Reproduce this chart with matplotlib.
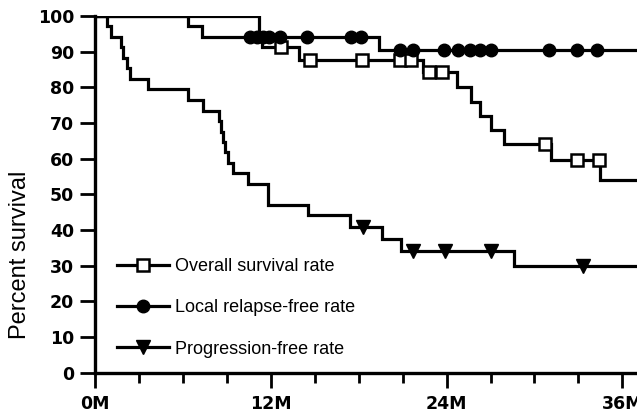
import numpy as np
import matplotlib
matplotlib.use("Agg")
import matplotlib.pyplot as plt
from matplotlib.lines import Line2D

# ---- data (months, percent) ----
t_end = 37.0

os_t = [0, 11.2, 11.4, 13.9, 22.4, 24.7, 25.7, 26.3, 27.0, 27.9, 31.1, 34.5]
os_s = [100, 94.1, 91.2, 87.7, 84.2, 80.0, 76.0, 72.0, 68.0, 64.0, 59.6, 53.9]
os_cens = [12.7, 14.7, 18.2, 20.8, 21.6, 22.8, 23.7, 30.7, 32.9, 34.4]

lr_t = [0, 6.33, 7.3, 19.4]
lr_s = [100, 97.1, 94.1, 90.6]
lr_cens = [10.6, 11.05, 11.5, 11.85, 12.6, 14.5, 17.5, 18.15, 20.8, 21.7,
           23.8, 24.8, 25.6, 26.3, 27.0, 31.0, 32.9, 34.3]

pf_t = [0, 0.8, 1.07, 1.75, 1.94, 2.17, 2.39, 3.64, 6.33, 7.4, 8.47, 8.6,
        8.75, 8.88, 9.1, 9.39, 10.47, 11.84, 14.57, 17.4, 19.6, 20.9, 28.6]
pf_s = [100, 97.1, 94.1, 91.2, 88.2, 85.3, 82.4, 79.4, 76.5, 73.5, 70.6, 67.6,
        64.7, 61.8, 58.8, 55.9, 52.9, 47.1, 44.1, 40.8, 37.4, 34.0, 29.9]
pf_cens = [18.3, 21.7, 23.9, 27.0, 33.3]

labels = ["Overall survival rate", "Local relapse-free rate", "Progression-free rate"]
x_ticks = [0, 12, 24, 36]
x_ticklabels = ["0M", "12M", "24M", "36M"]
y_ticks = list(range(0, 101, 10))


def step_value(t, s, x):
    t = np.asarray(t)
    s = np.asarray(s)
    idx = np.searchsorted(t, x, side="right") - 1
    return s[idx]


W, H = 637, 416
dpi = 100
fig = plt.figure(figsize=(W / dpi, H / dpi), dpi=dpi)
ax = fig.add_axes([95 / W, 1 - 372.7 / H, 1 - 95 / W, (372.7 - 16) / H])

lw = 2.3
styles = [
    dict(marker="s", ms=8.0, mfc="white", mec="black", mew=1.8),
    dict(marker="o", ms=9.0, mfc="black", mec="black", mew=1.0),
    dict(marker="v", ms=10.0, mfc="black", mec="black", mew=1.0),
]

for (t, s, c), st in zip([(os_t, os_s, os_cens), (lr_t, lr_s, lr_cens),
                          (pf_t, pf_s, pf_cens)], styles):
    tt = list(t) + [t_end]
    ss = list(s) + [s[-1]]
    ax.step(tt, ss, where="post", color="black", lw=lw, solid_joinstyle="miter",
            zorder=2)
    cy = step_value(t, s, np.asarray(c))
    ax.plot(c, cy, linestyle="none", zorder=3, **st)

ax.set_xlim(0, t_end)
ax.set_ylim(0, 100)

for side in ["top", "right"]:
    ax.spines[side].set_visible(False)
for side in ["left", "bottom"]:
    ax.spines[side].set_linewidth(2.4)

ax.set_xticks(x_ticks)
ax.set_xticklabels(x_ticklabels)
ax.set_xticks(np.arange(0, 37, 3), minor=True)
ax.set_yticks(y_ticks)
ax.tick_params(axis="both", which="major", direction="out", length=11, width=2.0,
               labelsize=12.5, pad=4)
ax.tick_params(axis="x", which="minor", direction="out", length=7, width=2.0)
ax.tick_params(axis="x", which="major", pad=5)
for lab in ax.get_xticklabels() + ax.get_yticklabels():
    lab.set_fontfamily("DejaVu Sans")
    lab.set_fontweight("bold")

fig.text(20 / W, 1 - 255 / H, "Percent survival", rotation=90, ha="center",
         va="center", fontsize=17, family="Liberation Sans")

handles = [Line2D([0], [0], color="black", lw=lw, **st) for st in styles]
leg = ax.legend(handles, labels, loc="upper left",
                bbox_to_anchor=(117 / W, 1 - 258 / H), bbox_transform=fig.transFigure,
                frameon=False, prop=dict(family="Liberation Sans", size=13),
                handlelength=2.9, handletextpad=0.3, labelspacing=1.35,
                borderpad=0, borderaxespad=0)

fig.savefig("out.png", dpi=dpi, facecolor="white")
